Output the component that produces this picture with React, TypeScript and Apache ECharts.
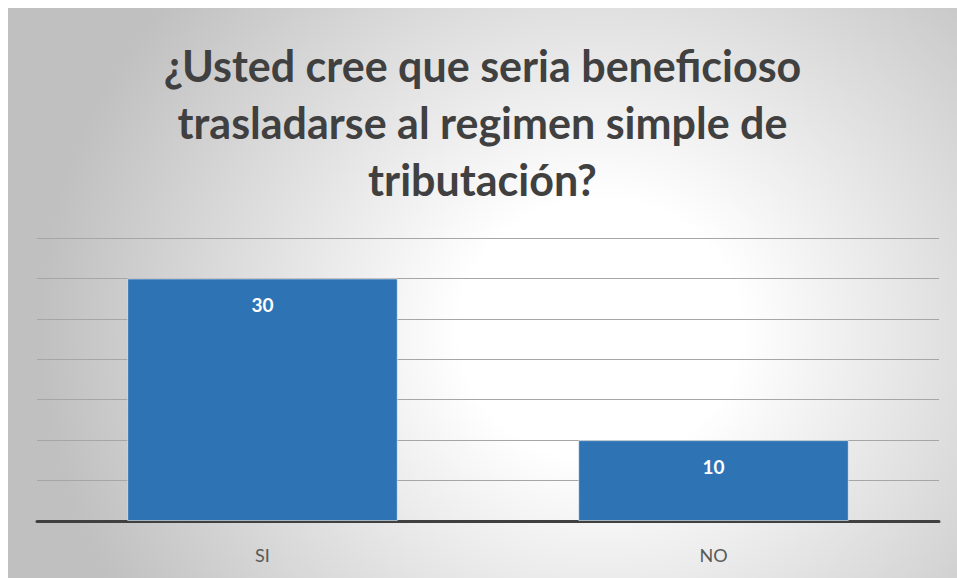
import React, { useEffect, useRef } from "react";
import * as echarts from "echarts";

const titleLines = [
  "¿Usted cree que seria beneficioso",
  "trasladarse al regimen simple de",
  "tributación?",
];
const categories = ["SI", "NO"];
const values = [30, 10];
const yMin = 0;
const yMax = 35;
const yInterval = 5;

const FONT = "Lato, 'Open Sans', sans-serif";

export default function App() {
  const ref = useRef<HTMLDivElement>(null);

  useEffect(() => {
    if (!ref.current) return;
    const chart = echarts.init(ref.current, undefined, { renderer: "svg" });
    chart.setOption({
      animation: false,
      backgroundColor: "transparent",
      title: {
        text: titleLines.join("\n"),
        left: "center",
        top: 24,
        textStyle: {
          fontFamily: FONT,
          fontWeight: "bold",
          fontSize: 43,
          lineHeight: 57,
          color: "#404040",
        },
      },
      grid: { left: 29, right: 18, top: 230, bottom: 57 },
      xAxis: {
        type: "category",
        data: categories,
        axisLine: { show: true, lineStyle: { color: "#404040", width: 3 } },
        axisTick: { show: false },
        axisLabel: {
          margin: 25,
          fontFamily: FONT,
          fontSize: 18,
          color: "#595959",
        },
      },
      yAxis: {
        type: "value",
        min: yMin,
        max: yMax,
        interval: yInterval,
        axisLine: { show: false },
        axisTick: { show: false },
        axisLabel: { show: false },
        splitLine: { show: true, lineStyle: { color: "#a6a6a6", width: 1 } },
      },
      series: [
        {
          type: "bar",
          data: values,
          barWidth: "60%",
          itemStyle: {
            color: "#2e74b5",
            borderColor: "rgba(255,255,255,0.55)",
            borderWidth: 1,
          },
          label: {
            show: true,
            position: "insideTop",
            distance: 17,
            color: "#ffffff",
            fontFamily: FONT,
            fontWeight: "bold",
            fontSize: 19,
          },
        },
      ],
    });
    return () => chart.dispose();
  }, []);

  return (
    <div
      ref={ref}
      style={{
        position: "absolute",
        left: 8,
        top: 8,
        width: 949,
        height: 570,
        background:
          "radial-gradient(ellipse 560px 520px at 592px 322px, #ffffff 0%, #ffffff 25%, #c0c0c0 100%)",
      }}
    />
  );
}
